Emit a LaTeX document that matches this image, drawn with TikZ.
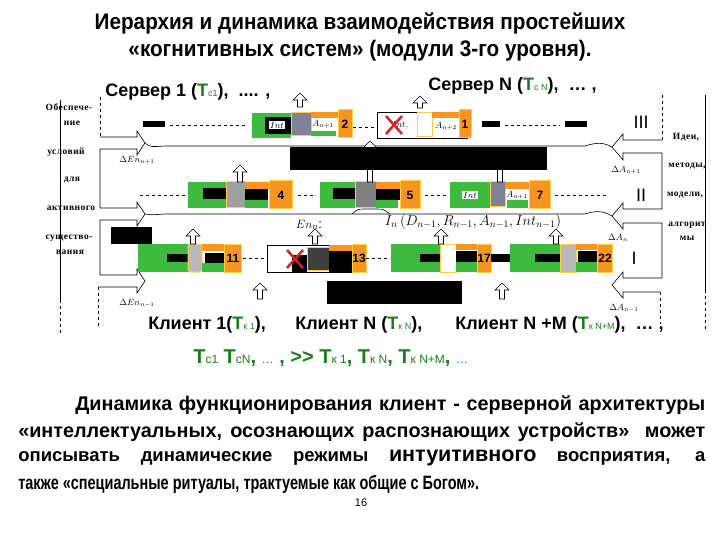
\documentclass[tikz,border=0pt]{standalone}
\usepackage{fontspec}
\setmainfont{Liberation Sans}
\newfontfamily\narrowfont[FakeStretch=0.75]{Liberation Sans}
\newfontfamily\titlefont[FakeStretch=0.92]{Liberation Sans}
\newfontfamily\timesfont[LetterSpace=5]{Liberation Serif}
\usepackage{amsmath}
\usetikzlibrary{positioning, calc}

\definecolor{modgreen}{RGB}{62,186,62}
\definecolor{modorange}{RGB}{246,150,32}
\definecolor{glow}{RGB}{255,206,70}
\definecolor{slate}{RGB}{128,128,150}
\definecolor{tgreen}{RGB}{24,128,24}
\definecolor{crossred}{RGB}{214,36,36}

\newcommand{\tgr}[2]{\textcolor{tgreen}{#1{\mdseries\fontsize{9}{9}\selectfont #2}}}
\newcommand{\tsm}[1]{{\mdseries\fontsize{12}{12}\selectfont #1}}

\begin{document}
\begin{tikzpicture}[x=1pt, y=-1pt, line width=0.6pt,
    numbox/.style={fill=modorange, draw=glow, line width=1pt, minimum height=28, inner sep=0, font=\bfseries\fontsize{12}{12}\selectfont},
    lbl/.style={fill=white, inner sep=1pt, font=\fontsize{9}{9}\selectfont},
    side/.style={inner sep=0, font=\timesfont\bfseries\fontsize{9.5}{10}\selectfont},
    head/.style={inner sep=0, font=\bfseries\fontsize{18}{18}\selectfont},
    level/.style={inner sep=0, font=\fontsize{18}{18}\selectfont},
    para/.style={inner sep=0, anchor=west, font=\bfseries\fontsize{19.8}{20}\selectfont},
    delta/.style={inner sep=0, font=\fontsize{9}{9}\selectfont},
    pics/uparr/.style={code={\draw[fill=white] (-2.5,0) -- (-2.5,7-#1) -- (-7,7-#1) -- (0,-#1) -- (7,7-#1) -- (2.5,7-#1) -- (2.5,0) -- cycle;}}
  ]
\useasboundingbox (0,0) rectangle (720,540);

\node[inner sep=0, font=\titlefont\bfseries\fontsize{22.5}{22.5}\selectfont] (title1) at (360,23) {Иерархия и динамика взаимодействия простейших};
\node[inner sep=0, font=\titlefont\bfseries\fontsize{22.5}{22.5}\selectfont] (title2) at (360,51) {«когнитивных систем» (модули 3-го уровня).};

\node[head, anchor=west] (srv1) at (105,92) {Сервер 1 (\tgr{Т}{с1}), \ .... ,};
\node[head, anchor=west] (srvn) at (428,86) {Сервер N (\tgr{Т}{с N}), \ \dots\ ,};

% left and right frames
\draw (60,100) -- (60,300);
\draw[dashed] (60,300) -- (60,335);
\draw (705,95) -- (705,290);
\draw[dashed] (705,290) -- (705,330);
\draw[dashed] (100,97) -- (100,137);
\draw (100,137) -- (137,137) -- (137,131) -- (145,143) -- (137,155) -- (137,149) -- (100,149) -- (100,208) -- (137,208) -- (137,202) -- (145,214) -- (137,226) -- (137,220) -- (100,220) -- (100,275) -- (137,275) -- (137,269) -- (145,281) -- (137,293) -- (137,287) -- (98,287);
\draw[dashed] (98,287) -- (98,326);
\draw[dashed] (662,95) -- (662,140);
\draw (662,140) -- (623,140) -- (623,134) -- (612,147) -- (623,160) -- (623,153) -- (662,153) -- (662,209) -- (623,209) -- (623,203) -- (612,216) -- (623,229) -- (623,223) -- (662,223) -- (662,278) -- (623,278) -- (623,272) -- (612,285) -- (623,298) -- (623,292) -- (660,292);
\draw[dashed] (660,292) -- (660,324);
\draw (145,143) .. controls (150,147) .. (165,146) -- (585,146) .. controls (600,141) and (606,144) .. (612,147);
\draw (145,214) .. controls (150,215) .. (165,214) -- (585,214) .. controls (600,209) and (606,213) .. (612,216);
\draw (352,214) .. controls (358,209) .. (365,209) -- (376,209) .. controls (383,209) .. (390,214);

\node[side] (obes) at (69,107) {Обеспече-};
\node[side] (nie) at (72,123) {ние};
\node[side] (usl) at (66,152) {условий};
\node[side] (dlya) at (72,180) {для};
\node[side] (aktiv) at (71,208) {активного};
\node[side] (sush) at (69,238) {существо-};
\node[side] (vaniya) at (70,252) {вания};
\node[side] (idei) at (686,137) {Идеи,};
\node[side] (metody) at (687,166) {методы,};
\node[side] (modeli) at (685,195) {модели,};
\node[side] (algor) at (687,225) {алгорит};
\node[side] (my) at (687,238) {мы};

\node[level] (l3) at (641,122) {III};
\node[level] (l2) at (641,195) {II};
\node[level] (l1) at (634,258) {I};

\node[delta] (den1) at (137,160) {$\Delta En_{n+1}$};
\node[delta] (den2) at (137,303) {$\Delta En_{n-1}$};
\node[delta] (da1) at (626,170) {$\Delta A_{n+1}$};
\node[delta] (da2) at (618,238) {$\Delta A_{n}$};
\node[delta] (da3) at (624,308) {$\Delta A_{n-1}$};
\node[delta, font=\fontsize{13}{13}\selectfont] (en) at (309,225) {$En_{n}$:};
\node[delta, font=\fontsize{14}{14}\selectfont] (in) at (473,222) {$I_n\,(D_{n-1},R_{n-1},A_{n-1},Int_{n-1})$};

% row III
\fill (143,121) rectangle (165,127);
\draw[dashed] (170,125) -- (247,125);
\fill[modgreen] (252,113) rectangle (291,138);
\fill (265,117) rectangle (291,134);
\node[lbl] (int2) at (277,125) {$Int$};
\filldraw[fill=slate, draw=glow, line width=1pt] (291,113) rectangle (311,136);
\fill[modorange] (311,112) rectangle (338,118);
\fill[modgreen] (311,131) rectangle (336,136);
\node[lbl, fill=none] (a2) at (323,124) {$A_{n+1}$};
\node[numbox, minimum width=14] (n2) at (345,124) {2};
\draw[dashed] (353,127) -- (376,127);
\draw[fill=white] (377,112) rectangle (467,138);
\node[lbl, fill=none] (int1) at (400,125) {$Int,$};
\draw[crossred, line width=2.5pt] (386,116) -- (402,134) (386,134) -- (402,116);
\draw[glow, line width=1pt, fill=white] (417,113) rectangle (432,137);
\fill[modorange] (432,112) rectangle (459,118);
\node[lbl, fill=none] (a1) at (446,126) {$A_{n+2}$};
\node[numbox, minimum width=12] (n1) at (465,124) {1};
\fill (482,121) rectangle (500,127);
\draw[dashed] (505,125) -- (560,125);
\fill (565,121) rectangle (587,127);

% row II
\draw[dashed] (140,195) -- (186,195);
\fill[modgreen] (188,182) rectangle (227,208);
\fill (203,188) rectangle (227,199);
\filldraw[fill=gray!75, draw=glow, line width=1pt] (226,182) rectangle (245,208);
\fill[modorange] (245,182) rectangle (270,189);
\fill (245,189) rectangle (268,200);
\fill[modgreen] (245,200) rectangle (268,208);
\node[numbox, minimum width=23] (n4) at (281,195) {4};
\draw[dashed] (298,195) -- (316,195);
\fill[modgreen] (320,182) rectangle (357,208);
\fill (333,188) rectangle (357,199);
\filldraw[fill=gray, draw=glow, line width=1pt] (355,182) rectangle (376,208);
\fill[modorange] (376,182) rectangle (400,189);
\fill (376,189) rectangle (400,200);
\fill[modgreen] (376,200) rectangle (398,208);
\node[numbox, minimum width=20] (n5) at (410,195) {5};
\draw[dashed] (425,195) -- (446,195);
\fill[modgreen] (450,182) rectangle (490,208);
\node[lbl] (int7) at (470,195) {$Int$};
\filldraw[fill=slate, draw=glow, line width=1pt] (490,182) rectangle (505,207);
\fill[modorange] (505,182) rectangle (530,189);
\fill[modgreen] (507,200) rectangle (528,208);
\node[lbl, fill=none] (a7) at (517,195) {$A_{n+1}$};
\node[numbox, minimum width=21] (n7) at (540,195) {7};
\draw[dashed] (555,195) -- (607,195);

% row I
\fill (111,227) rectangle (152,244);
\fill[modgreen] (138,244) rectangle (190,272);
\fill (167,254) rectangle (190,262);
\filldraw[fill=gray!55, draw=glow, line width=1pt, rounded corners=3pt] (188,244) rectangle (202,272);
\fill[modorange] (202,244) rectangle (226,251);
\fill (205,253) rectangle (226,263);
\fill[modgreen] (202,263) rectangle (226,272);
\node[numbox, minimum width=17] (n11) at (233,258) {11};
\draw[dashed] (243,258) -- (266,258);
\draw[fill=white] (267,245) rectangle (366,272);
\fill (292,255) rectangle (307,272);
\draw[crossred, line width=2.5pt] (287,250) -- (303,268) (287,268) -- (303,250);
\filldraw[fill=black!75, draw=glow, line width=1pt] (307,247) rectangle (329,270);
\fill[modorange] (329,245) rectangle (354,251);
\fill (329,251) rectangle (352,272);
\node[numbox, minimum width=14] (n13) at (359,258) {13};
\draw[dashed] (366,258) -- (390,258);
\fill[modgreen] (391,244) rectangle (440,272);
\fill (420,254) rectangle (440,262);
\filldraw[fill=white, draw=glow, line width=1pt] (440,244) rectangle (456,272);
\fill[modorange] (456,244) rectangle (478,250);
\fill (456,251) rectangle (478,262);
\fill[modgreen] (456,262) rectangle (478,272);
\node[numbox, minimum width=14] (n17) at (484,258) {17};
\fill (491,254) rectangle (510,262);
\fill[modgreen] (510,244) rectangle (560,272);
\fill (535,254) rectangle (560,262);
\filldraw[fill=gray!55, draw=glow, line width=1pt] (560,244) rectangle (576,272);
\fill[modorange] (576,244) rectangle (598,250);
\fill (578,251) rectangle (598,262);
\fill[modgreen] (576,262) rectangle (598,272);
\node[numbox, minimum width=15] (n22) at (605,258) {22};

% up arrows
\pic at (300,107) {uparr=14};
\pic at (420,108) {uparr=12};
\pic at (240,182) {uparr=17};
\pic at (370,182) {uparr=41};
\pic at (500,182) {uparr=30};
\pic at (193,244) {uparr=15};
\pic at (315,244) {uparr=15};
\pic at (441,244) {uparr=15};
\pic at (556,244) {uparr=15};
\pic at (260,299) {uparr=16};
\pic at (502,299) {uparr=16};

\fill (290,147) rectangle (547,170);
\fill (327,281) rectangle (462,304);

\node[head, anchor=west] (cl1) at (148,325) {Клиент 1(\tgr{Т}{к 1}),};
\node[head, anchor=west] (cln) at (295,325) {Клиент N (\tgr{Т}{к N}),};
\node[head, anchor=west] (clm) at (455,325) {Клиент N +M (\tgr{Т}{к N+M}), \ \dots\ ,};

\node[inner sep=0, anchor=west, text=tgreen, font=\bfseries\fontsize{20}{20}\selectfont] (times) at (193,358) {Т\tsm{с1} Т\tsm{сN}, \tsm{\dots} , {>}{>} Т\tsm{к 1}, Т\tsm{к N}, Т\tsm{к N+M}, \tsm{\dots}};

\node[para] (p1) at (75,405) {\makebox[630pt][s]{Динамика функционирования клиент - серверной архитектуры}};
\node[para] (p2) at (18,432) {\makebox[687pt][s]{«интеллектуальных, осознающих распознающих устройств»\ \ может}};
\node[para, font=\bfseries\fontsize{18.5}{19}\selectfont] (p3) at (18,458) {\makebox[687pt][s]{описывать динамические режимы {\fontsize{21.5}{21.5}\selectfont интуитивного} восприятия, а}};
\node[para, font=\narrowfont\bfseries\fontsize{19.3}{19.5}\selectfont] (p4) at (18,484) {также «специальные ритуалы, трактуемые как общие с Богом».};
\node[inner sep=0, font=\fontsize{11}{11}\selectfont] (page) at (361,503) {16};
\end{tikzpicture}
\end{document}
